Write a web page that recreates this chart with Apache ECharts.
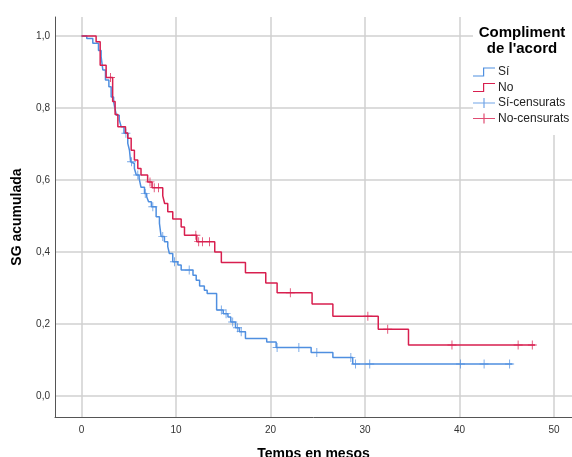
<!DOCTYPE html>
<html>
<head>
<meta charset="utf-8">
<script src="https://cdn.jsdelivr.net/npm/echarts@6/dist/echarts.min.js"></script>
<style>
html, body { margin: 0; padding: 0; background: #fff; }
#chart { width: 572px; height: 457px; }
</style>
</head>
<body>
<div id="chart"></div>
<script>
// Kaplan-Meier steps [mesos, SG acumulada]
var siSteps = [[0, 1], [0.56, 0.993], [1.2, 0.98], [1.8, 0.96], [2.08, 0.943], [2.26, 0.906], [2.54, 0.878], [2.9, 0.859], [3.14, 0.831], [3.4, 0.818], [3.5, 0.804], [3.7, 0.78], [4.0, 0.767], [4.2, 0.748], [4.5, 0.73], [4.9, 0.702], [5.08, 0.683], [5.2, 0.651], [5.4, 0.646], [5.6, 0.632], [5.8, 0.614], [6.1, 0.605], [6.3, 0.58], [6.67, 0.563], [6.9, 0.554], [7.1, 0.54], [7.4, 0.526], [7.9, 0.498], [8.25, 0.48], [8.43, 0.443], [8.78, 0.429], [9.13, 0.415], [9.3, 0.396], [9.66, 0.373], [10.2, 0.364], [10.55, 0.35], [11.8, 0.336], [12.14, 0.322], [12.5, 0.306], [13.0, 0.294], [13.3, 0.285], [14.3, 0.239], [15.0, 0.229], [15.5, 0.22], [15.8, 0.206], [16.3, 0.19], [16.7, 0.179], [17.35, 0.16], [19.6, 0.15], [20.6, 0.135], [24.3, 0.121], [26.6, 0.107], [28.7, 0.089], [45.6, 0.089]];
var noSteps = [[0, 1], [1.55, 0.984], [1.98, 0.919], [2.61, 0.885], [3.3, 0.818], [3.56, 0.782], [3.85, 0.748], [4.66, 0.731], [4.9, 0.716], [5.26, 0.683], [5.6, 0.656], [5.96, 0.632], [6.3, 0.614], [7.0, 0.595], [7.47, 0.579], [8.6, 0.556], [8.8, 0.535], [9.13, 0.512], [9.66, 0.492], [10.55, 0.47], [10.9, 0.447], [12.2, 0.429], [14.1, 0.4], [14.8, 0.371], [17.35, 0.343], [19.5, 0.314], [20.7, 0.287], [24.4, 0.256], [26.6, 0.222], [31.4, 0.186], [34.6, 0.142], [48.0, 0.142]];
var siCens = [[4.7, 0.73], [5.3, 0.651], [5.96, 0.614], [6.75, 0.563], [7.55, 0.526], [8.6, 0.443], [9.84, 0.373], [11.4, 0.35], [14.8, 0.239], [15.3, 0.229], [16.0, 0.206], [16.5, 0.19], [16.9, 0.179], [20.7, 0.135], [23.0, 0.135], [24.9, 0.121], [28.5, 0.107], [29.0, 0.089], [30.5, 0.089], [40.1, 0.089], [42.6, 0.089], [45.3, 0.089]];
var noCens = [[3.07, 0.885], [7.25, 0.595], [7.7, 0.579], [8.15, 0.579], [12.1, 0.447], [12.4, 0.429], [12.8, 0.429], [13.55, 0.429], [22.1, 0.287], [30.3, 0.222], [32.4, 0.186], [39.2, 0.142], [46.2, 0.142], [47.7, 0.142]];
var xTicks = [0, 10, 20, 30, 40, 50];
var yTicks = [0, 0.2, 0.4, 0.6, 0.8, 1.0];
var names = ['Sí', 'No', 'Sí-censurats', 'No-censurats'];

var blue = '#4f8fe0';
var red = '#d81f4f';
var font = 'Liberation Sans';
var stepIcon = 'path://M0,8H10V0H22V1.2H11.2V9.2H0Z';
var plusIcon = 'path://M0,4.4H22V5.6H0Z M10.4,0H11.6V10H10.4Z';
var plusSym = 'path://M0,4.5H10V5.5H0Z M4.5,0H5.5V10H4.5Z';

var chart = echarts.init(document.getElementById('chart'));
var option = {
	animation: false,
	backgroundColor: '#fff',
	grid: { left: 55, right: 0, top: 17, bottom: 40, outerBoundsMode: 'none', containLabel: false },
	xAxis: {
		type: 'value',
		min: -2.8,
		max: 51.9,
		name: 'Temps en mesos',
		nameLocation: 'middle',
		nameGap: 30,
		nameTextStyle: { fontFamily: font, fontSize: 14, fontWeight: 'bold', color: '#000' },
		axisLine: { show: true, onZero: false, lineStyle: { color: '#555', width: 1 } },
		axisTick: { show: false, customValues: xTicks },
		axisLabel: { customValues: xTicks, margin: 8, fontFamily: font, fontSize: 10, color: '#333' },
		splitLine: { show: true, lineStyle: { color: '#d0d0d0', width: 1.5 } }
	},
	yAxis: {
		type: 'value',
		min: -0.058,
		max: 1.053,
		name: 'SG acumulada',
		nameLocation: 'middle',
		nameGap: 31,
		nameTextStyle: { fontFamily: font, fontSize: 14, fontWeight: 'bold', color: '#000' },
		axisLine: { show: true, onZero: false, lineStyle: { color: '#555', width: 1 } },
		axisTick: { show: false, customValues: yTicks },
		axisLabel: {
			customValues: yTicks, margin: 5, fontFamily: font, fontSize: 10, color: '#333',
			formatter: function (v) { return v.toFixed(1).replace('.', ','); }
		},
		splitLine: { show: true, lineStyle: { color: '#d0d0d0', width: 1.5 } }
	},
	legend: {
		orient: 'vertical',
		left: 473,
		top: 66,
		z: 20,
		itemWidth: 22,
		itemHeight: 10,
		itemGap: 3.5,
		padding: 0,
		textStyle: { fontFamily: font, fontSize: 12, color: '#222', padding: [0, 0, 0, -2] },
		data: [
			{ name: names[0], icon: stepIcon },
			{ name: names[1], icon: stepIcon },
			{ name: names[2], icon: plusIcon },
			{ name: names[3], icon: plusIcon }
		]
	},
	graphic: [
		{ type: 'rect', z: 10, shape: { x: 473, y: 0, width: 110, height: 135 }, style: { fill: '#fff' } },
		{
			type: 'text', z: 20, x: 522, y: 25,
			style: {
				text: 'Compliment\nde l\'acord', textAlign: 'center', textVerticalAlign: 'top',
				font: 'bold 15px "Liberation Sans"', lineHeight: 16, fill: '#000'
			}
		}
	],
	series: [{
		name: names[0],
		type: 'line',
		step: 'end',
		showSymbol: false,
		color: blue,
		lineStyle: { width: 1.5, color: blue },
		data: siSteps
	}, {
		name: names[1],
		type: 'line',
		step: 'end',
		showSymbol: false,
		color: red,
		lineStyle: { width: 1.5, color: red },
		data: noSteps
	}, {
		name: names[2],
		type: 'scatter',
		symbol: plusSym,
		symbolSize: [9, 9],
		color: blue,
		data: siCens
	}, {
		name: names[3],
		type: 'scatter',
		symbol: plusSym,
		symbolSize: [9, 9],
		color: red,
		data: noCens
	}]
};
chart.setOption(option);
</script>
</body>
</html>
